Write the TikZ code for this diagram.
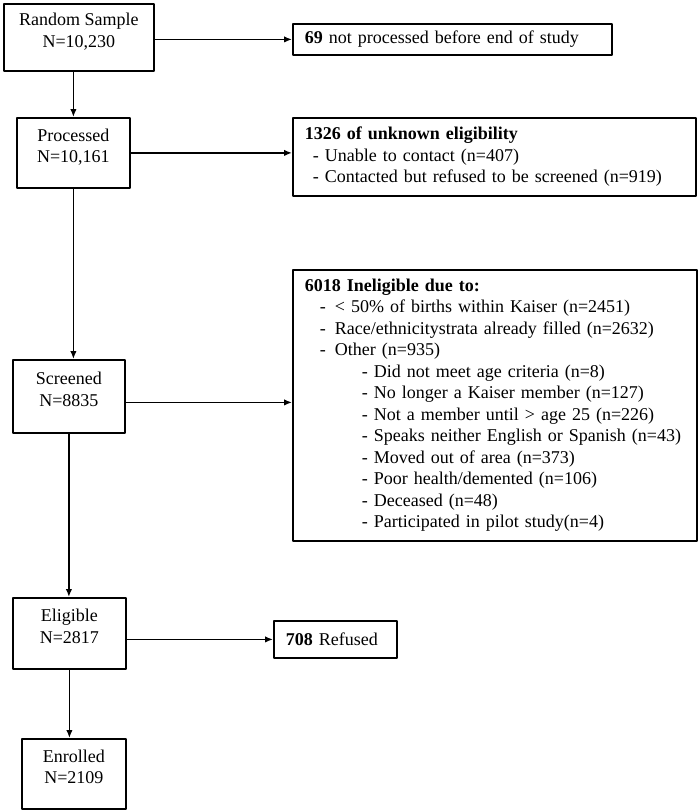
\documentclass[tikz,border=0pt]{standalone}
\usepackage{fontspec}
\setmainfont{Liberation Serif}
\usetikzlibrary{arrows.meta}
\begin{document}
\begin{tikzpicture}[x=1pt,y=-1pt,>={Latex[length=8pt,width=6.5pt]},line join=round,font=\fontsize{18}{21.5}\selectfont,
	box/.style={draw,line width=1.8pt,anchor=north west,inner ysep=0pt},
	stage/.style={box,align=center,execute at end node={\rule[-14pt]{0pt}{0pt}}},
	note/.style={box,align=left,inner xsep=12pt},
	flow/.style={->,line width=1.5pt}]
	\useasboundingbox (0,0) rectangle (700,812);
	\node[stage,minimum width=150pt,minimum height=67pt] (rs) at (3,3) {Random Sample\\N=10,230};
	\node[stage,minimum width=113pt,minimum height=70pt] (proc) at (16,117) {Processed\\N=10,161};
	\node[stage,minimum width=112pt,minimum height=73pt] (scr) at (12,359) {Screened\\N=8835};
	\node[stage,minimum width=113pt,minimum height=71pt] (elig) at (12,597) {Eligible\\N=2817};
	\node[stage,minimum width=104pt,minimum height=70pt] (enr) at (21,738) {Enrolled\\N=2109};
	\node[note,text width=295pt,minimum height=31pt] (notproc) at (292,23) {\textbf{69} not processed before end of study};
	\node[note,text width=379pt,minimum height=78pt] (unk) at (292,117) {\textbf{1326 of unknown eligibility}\\
		\hspace*{8pt}- Unable to contact (n=407)\\
		\hspace*{8pt}- Contacted but refused to be screened (n=919)};
	\node[note,text width=380pt,minimum height=271pt] (inel) at (292,269) {\textbf{6018 Ineligible due to:}\\
		\hspace*{15pt}\makebox[15pt][l]{-}< 50\% of births within Kaiser (n=2451)\\
		\hspace*{15pt}\makebox[15pt][l]{-}Race/ethnicitystrata already filled (n=2632)\\
		\hspace*{15pt}\makebox[15pt][l]{-}Other (n=935)\\
		\hspace*{57pt}- Did not meet age criteria (n=8)\\
		\hspace*{57pt}- No longer a Kaiser member (n=127)\\
		\hspace*{57pt}- Not a member until > age 25 (n=226)\\
		\hspace*{57pt}- Speaks neither English or Spanish (n=43)\\
		\hspace*{57pt}- Moved out of area (n=373)\\
		\hspace*{57pt}- Poor health/demented (n=106)\\
		\hspace*{57pt}- Deceased (n=48)\\
		\hspace*{57pt}- Participated in pilot study(n=4)};
	\node[note,text width=99pt,minimum height=37pt] (refu) at (273,620) {\textbf{708} Refused};
	\draw[flow] (rs.south -| proc.north) -- (proc.north);
	\draw[flow] (proc.south) -- (proc.south |- scr.north);
	\draw[flow] (scr.south) -- (scr.south |- elig.north);
	\draw[flow] (elig.south) -- (elig.south |- enr.north);
	\draw[flow] (notproc.west -| rs.east) -- (notproc.west);
	\draw[flow] (proc.east) -- (proc.east -| unk.west);
	\draw[flow] ([yshift=-6pt]scr.east) -- ([yshift=-6pt]scr.east -| inel.west);
	\draw[flow] (refu.west -| elig.east) -- (refu.west);
	%	\path (current bounding box.south) node[below]{};
\end{tikzpicture}
\end{document}
